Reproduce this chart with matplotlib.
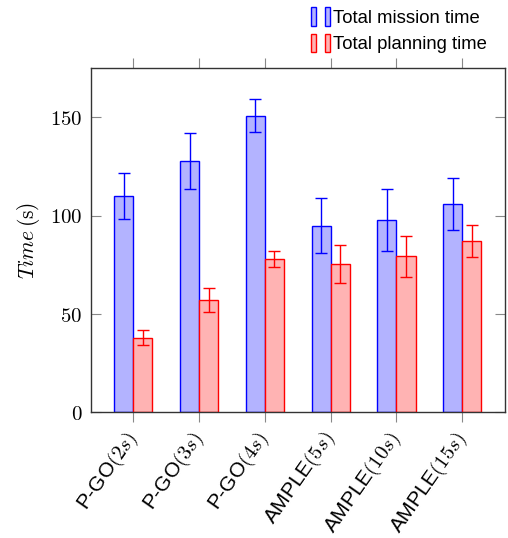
import matplotlib.pyplot as plt
import numpy as np
from matplotlib.patches import Rectangle
from matplotlib.legend_handler import HandlerTuple

plt.rcParams['mathtext.fontset'] = 'cm'
plt.rcParams['font.family'] = ['Liberation Sans', 'DejaVu Sans']

# planner configurations
methods = [r"P-GO$(2s)$", r"P-GO$(3s)$", r"P-GO$(4s)$",
           r"AMPLE$(5s)$", r"AMPLE$(10s)$", r"AMPLE$(15s)$"]

# means and standard deviations (seconds)
mission_time = [110, 128, 151, 95, 98, 106]
mission_err = [11.5, 14.2, 8.2, 14.2, 15.8, 13.3]
planning_time = [38, 57, 78, 75.5, 79.3, 87.3]
planning_err = [4.0, 6.0, 4.0, 9.7, 10.4, 8.2]

blue_fill = '#b3b3ff'
red_fill = '#ffb3b3'

fig = plt.figure(figsize=(5.08, 5.38), dpi=100)
ax = fig.add_axes([0.1785, 0.2336, 0.994 - 0.1785, 0.873 - 0.2336])

x = np.arange(len(methods))
w = 0.29
ax.bar(x - w / 2, mission_time, w, color=blue_fill, edgecolor='blue', linewidth=1.0,
       yerr=mission_err, error_kw=dict(ecolor='blue', elinewidth=1.0, capsize=4, capthick=1.0))
ax.bar(x + w / 2, planning_time, w, color=red_fill, edgecolor='red', linewidth=1.0,
       yerr=planning_err, error_kw=dict(ecolor='red', elinewidth=1.0, capsize=4, capthick=1.0))

ax.set_xlim(-0.65, 5.65)
ax.set_ylim(0, 175)
ax.set_yticks([0, 50, 100, 150])
ax.set_yticklabels([f"${v}$" for v in [0, 50, 100, 150]], fontsize=15)
ax.set_xticks(x)
ax.set_xticklabels(methods, rotation=55, ha='right', va='center',
                   rotation_mode='anchor', fontsize=15)

ax.tick_params(axis='x', direction='out', length=7, width=0.8, color='#888888',
               top=True, pad=9)
ax.tick_params(axis='y', direction='in', length=7, width=0.8, color='#888888',
               right=True, pad=6)
for s in ax.spines.values():
    s.set_linewidth(1.0)
    s.set_color('#333333')

ax.set_ylabel(r"$Time\,(\mathrm{s})$", fontsize=15.5, labelpad=6)

# legend with two small bars per entry
hb = (Rectangle((0, 0), 1, 1, fc=blue_fill, ec='blue'),
      Rectangle((0, 0), 1, 1, fc=blue_fill, ec='blue'))
hr = (Rectangle((0, 0), 1, 1, fc=red_fill, ec='red'),
      Rectangle((0, 0), 1, 1, fc=red_fill, ec='red'))
fig.legend([hb, hr], ["Total mission time", "Total planning time"],
           handler_map={tuple: HandlerTuple(ndivide=None, pad=0.45)},
           loc='upper left', bbox_to_anchor=(0.597, 1.0), frameon=False,
           fontsize=13.3, handlelength=1.05, handleheight=1.2, handletextpad=0.15,
           labelspacing=0.35, borderaxespad=0.0)

fig.savefig('out.png', dpi=100)
